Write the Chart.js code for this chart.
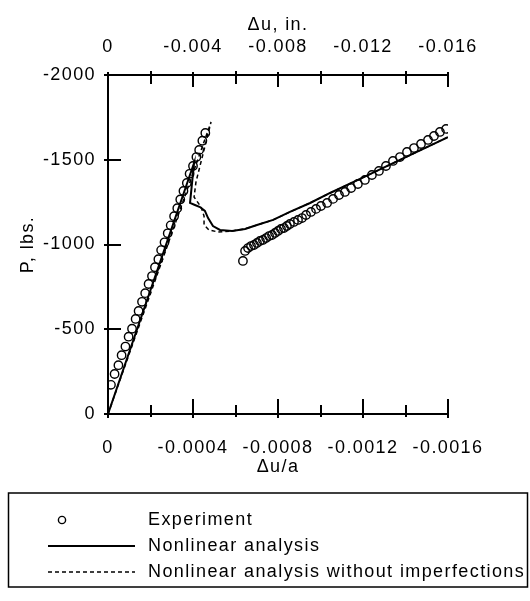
<!DOCTYPE html>
<html>
<head>
<meta charset="utf-8">
<script src="https://cdn.jsdelivr.net/npm/chart.js@4/dist/chart.umd.min.js"></script>
<style>
  html, body { margin: 0; padding: 0; background: #fff; }
  canvas { display: block; }
</style>
</head>
<body>
<canvas id="chart" width="530" height="601"></canvas>
<script>
// Load P (lbs) against normalised shortening du/a for the test and the two analyses.

const seriesNames = ['Experiment', 'Nonlinear analysis', 'Nonlinear analysis without imperfections'];

// Experiment: loading branch, then the post-buckling branch
const expStrain = [
  -0.000014, -0.000031, -0.000049, -0.000064, -0.000082, -0.000097, -0.000113, -0.000130,
  -0.000144, -0.000160, -0.000175, -0.000191, -0.000207, -0.000221, -0.000237, -0.000250,
  -0.000266, -0.000281, -0.000295, -0.000311, -0.000326, -0.000340, -0.000355, -0.000371,
  -0.000384, -0.000400, -0.000416, -0.000429, -0.000444, -0.000458,
  -0.000635, -0.000645, -0.000659, -0.000673, -0.000687, -0.000701, -0.000715, -0.000729,
  -0.000744, -0.000758, -0.000772, -0.000786, -0.000800, -0.000814, -0.000828, -0.000842,
  -0.000856, -0.000875, -0.000894, -0.000913, -0.000932, -0.000955, -0.000979, -0.001002,
  -0.001031, -0.001059, -0.001087, -0.001115, -0.001144, -0.001176, -0.001209, -0.001242,
  -0.001275, -0.001308, -0.001341, -0.001374, -0.001407, -0.001440, -0.001473, -0.001506,
  -0.001534, -0.001562, -0.001591
];
const expLoad = [
  -172, -236, -288, -347, -398, -456, -503, -561,
  -608, -662, -713, -767, -814, -866, -913, -967,
  -1013, -1066, -1113, -1167, -1214, -1266, -1316, -1363,
  -1417, -1463, -1516, -1558, -1612, -1658,
  -903, -962, -979, -991, -997, -1009, -1021, -1027,
  -1038, -1050, -1056, -1068, -1080, -1092, -1097, -1109,
  -1121, -1133, -1145, -1156, -1174, -1192, -1210, -1227,
  -1245, -1269, -1292, -1310, -1333, -1357, -1381, -1410,
  -1434, -1463, -1493, -1516, -1546, -1569, -1593, -1617,
  -1640, -1664, -1682
];

// Nonlinear analysis (with imperfections)
const nlStrain = [
  0, -0.000405, -0.000386, -0.000409, -0.000433, -0.000456, -0.000471, -0.000494,
  -0.000527, -0.000584, -0.000645, -0.000701, -0.000777, -0.000856, -0.000951,
  -0.001045, -0.001186, -0.001374, -0.0016
];
const nlLoad = [
  0, -1481, -1245, -1233, -1221, -1198, -1156, -1109,
  -1086, -1080, -1092, -1115, -1145, -1192, -1245,
  -1304, -1387, -1499, -1634
];

// Nonlinear analysis without imperfections
const perfStrain = [
  0, -0.000485, -0.000414, -0.000405, -0.000438, -0.000452, -0.000452, -0.000475,
  -0.000518, -0.000584, -0.000645, -0.000701, -0.000777, -0.000856, -0.000951,
  -0.001045, -0.001186, -0.001374, -0.0016
];
const perfLoad = [
  0, -1723, -1369, -1280, -1221, -1168, -1115, -1086,
  -1074, -1080, -1092, -1115, -1145, -1192, -1245,
  -1304, -1387, -1499, -1634
];

// Axis ticks
const strainTicks = [0, -0.0002, -0.0004, -0.0006, -0.0008, -0.001, -0.0012, -0.0014, -0.0016];
const strainTickLabels = ['0', '', '-0.0004', '', '-0.0008', '', '-0.0012', '', '-0.0016'];
const dispTicks = [0, -0.002, -0.004, -0.006, -0.008, -0.01, -0.012, -0.014, -0.016];
const dispTickLabels = ['0', '', '-0.004', '', '-0.008', '', '-0.012', '', '-0.016'];
const loadTicks = [0, -500, -1000, -1500, -2000];
const loadTickLabels = ['0', '-500', '-1000', '-1500', '-2000'];

const FONT = "'Liberation Sans', Arial, Helvetica, sans-serif";
const SPACING = '1.4px';
const INK = '#000';

const pairs = (xs, ys) => xs.map((x, i) => ({ x: x, y: ys[i] }));

// Slightly open letter spacing for all canvas text
const letterSpacing = {
  id: 'letterSpacing',
  beforeUpdate(chart) { chart.ctx.letterSpacing = SPACING; },
  beforeDraw(chart) { chart.ctx.letterSpacing = SPACING; }
};

// Tick marks pointing into the plot, long at labelled values
const tickMarks = {
  id: 'tickMarks',
  afterDraw(chart) {
    const ctx = chart.ctx;
    const bottom = chart.scales.x, top = chart.scales.x2, left = chart.scales.y;
    ctx.save();
    ctx.strokeStyle = INK;
    ctx.lineWidth = 2;
    const seg = (x1, y1, x2, y2) => { ctx.beginPath(); ctx.moveTo(x1, y1); ctx.lineTo(x2, y2); ctx.stroke(); };
    bottom.ticks.forEach((t, i) => {
      const p = Math.round(bottom.getPixelForValue(t.value));
      const major = i % 2 === 0;
      seg(p, bottom.top + (major ? 4 : 3), p, bottom.top - (major ? 15 : 9));
    });
    top.ticks.forEach((t, i) => {
      const p = Math.round(top.getPixelForValue(t.value));
      const major = i % 2 === 0;
      seg(p, top.bottom - (major ? 3 : 4), p, top.bottom + (major ? 12 : 9));
    });
    left.ticks.forEach((t) => {
      const p = Math.round(left.getPixelForValue(t.value));
      seg(left.right - 4, p, left.right + 13, p);
    });
    ctx.restore();
  }
};

// Frame around the legend block
const legendFrame = {
  id: 'legendFrame',
  afterDraw(chart) {
    const lg = chart.legend;
    const ctx = chart.ctx;
    ctx.save();
    ctx.strokeStyle = INK;
    ctx.lineWidth = 1.5;
    ctx.strokeRect(8.5, lg.top - 10, chart.width - 11, lg.height + 6);
    ctx.restore();
  }
};

// Legend keys drawn as small images so each row gets its own symbol
function legendKey(kind) {
  const c = document.createElement('canvas');
  c.width = 131; c.height = 20;
  const g = c.getContext('2d');
  g.strokeStyle = INK;
  g.beginPath();
  if (kind === 'circle') {
    g.lineWidth = 1.4;
    g.arc(54, 10, 3.6, 0, Math.PI * 2);
  } else {
    g.lineWidth = kind === 'solid' ? 2 : 1.5;
    if (kind === 'dash') g.setLineDash([4, 3]);
    g.moveTo(40, 10);
    g.lineTo(127, 10);
  }
  g.stroke();
  return c;
}
const legendKeys = [legendKey('circle'), legendKey('solid'), legendKey('dash')];

const tickFont = { family: FONT, size: 18 };

new Chart(document.getElementById('chart'), {
  type: 'scatter',
  data: {
    datasets: [
      {
        label: seriesNames[0],
        data: pairs(expStrain, expLoad),
        showLine: false,
        pointStyle: 'circle',
        pointRadius: 4.2,
        pointBorderWidth: 1.4,
        pointBorderColor: INK,
        pointBackgroundColor: 'rgba(0,0,0,0)',
        borderColor: INK
      },
      {
        label: seriesNames[1],
        data: pairs(nlStrain, nlLoad),
        showLine: true,
        borderColor: INK,
        borderWidth: 2,
        pointRadius: 0,
        tension: 0
      },
      {
        label: seriesNames[2],
        data: pairs(perfStrain, perfLoad),
        showLine: true,
        borderColor: INK,
        borderWidth: 1.5,
        borderDash: [4, 3],
        pointRadius: 0,
        tension: 0
      }
    ]
  },
  options: {
    responsive: false,
    animation: false,
    devicePixelRatio: 1,
    events: [],
    layout: { padding: { left: 0, right: 0, top: 0, bottom: 10 } },
    scales: {
      x: {
        type: 'linear',
        position: 'bottom',
        reverse: true,
        min: -0.0016,
        max: 0,
        grid: { display: false },
        border: { display: true, color: INK, width: 2 },
        afterBuildTicks: (s) => { s.ticks = strainTicks.map((v) => ({ value: v })); },
        afterFit: (s) => { s.height = 89; },
        ticks: {
          autoSkip: false, maxRotation: 0, minRotation: 0, padding: 15, color: INK, font: tickFont,
          callback: (v, i) => strainTickLabels[i]
        },
        title: { display: true, text: 'Δu/a', color: INK, font: tickFont, padding: { top: 0, bottom: 25 } }
      },
      x2: {
        type: 'linear',
        position: 'top',
        reverse: true,
        min: -0.016,
        max: 0,
        grid: { display: false },
        border: { display: true, color: INK, width: 2 },
        afterBuildTicks: (s) => { s.ticks = dispTicks.map((v) => ({ value: v })); },
        afterFit: (s) => { s.height = 75; },
        ticks: {
          autoSkip: false, maxRotation: 0, minRotation: 0, padding: 9, color: INK, font: tickFont,
          callback: (v, i) => dispTickLabels[i]
        },
        title: { display: true, text: 'Δu, in.', color: INK, font: tickFont, padding: { top: 14, bottom: 0 } }
      },
      y: {
        type: 'linear',
        position: 'left',
        reverse: true,
        min: -2000,
        max: 0,
        grid: { display: false },
        border: { display: true, color: INK, width: 2 },
        afterBuildTicks: (s) => { s.ticks = loadTicks.map((v) => ({ value: v })); },
        afterFit: (s) => { s.width = 108; },
        ticks: {
          autoSkip: false, padding: 4, color: INK, font: tickFont,
          callback: (v, i) => loadTickLabels[i]
        },
        title: { display: true, text: 'P, lbs.', color: INK, font: tickFont, padding: { top: 17, bottom: 0 } }
      },
      // blank margin to the right of the plot (no line, no labels)
      yMargin: {
        type: 'linear',
        axis: 'y',
        position: 'right',
        min: -2000,
        max: 0,
        grid: { display: false },
        border: { display: false },
        ticks: { display: false },
        title: { display: false },
        afterFit: (s) => { s.width = 82; }
      }
    },
    plugins: {
      tooltip: { enabled: false },
      legend: {
        display: true,
        position: 'bottom',
        align: 'start',
        labels: {
          usePointStyle: true,
          pointStyleWidth: 131,
          padding: 8,
          color: INK,
          font: { family: FONT, size: 18 },
          generateLabels: (chart) => chart.data.datasets.map((ds, i) => ({
            text: ds.label,
            datasetIndex: i,
            pointStyle: legendKeys[i],
            fillStyle: 'rgba(0,0,0,0)',
            strokeStyle: INK,
            lineWidth: 1,
            hidden: false
          }))
        }
      }
    }
  },
  plugins: [letterSpacing, tickMarks, legendFrame]
});
</script>
</body>
</html>
